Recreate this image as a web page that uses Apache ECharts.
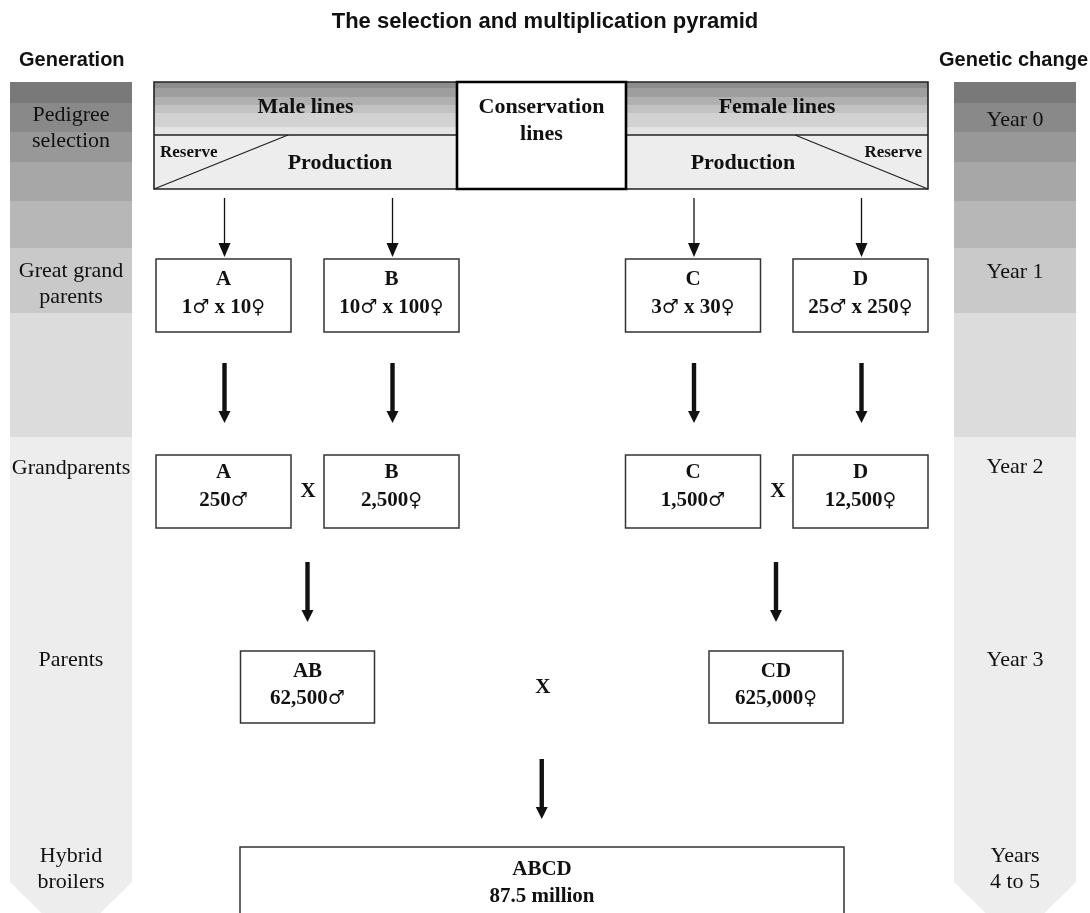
<!DOCTYPE html>
<html><head><meta charset="utf-8">
<script src="https://cdn.jsdelivr.net/npm/echarts@6/dist/echarts.min.js"></script>
<style>html,body{margin:0;padding:0;background:#fff}#c{width:1090px;height:913px}</style>
</head><body><div id="c"></div>
<script>
// ---------------- DATA ----------------
const chartTitle = 'The selection and multiplication pyramid';
const leftHeader = 'Generation';
const rightHeader = 'Genetic change';
const generations = ['Pedigree\nselection', 'Great grand\nparents', 'Grandparents', 'Parents', 'Hybrid\nbroilers'];
const geneticChange = ['Year 0', 'Year 1', 'Year 2', 'Year 3', 'Years\n4 to 5'];
const topHeaders = ['Male lines', 'Conservation\nlines', 'Female lines'];
const subHeaders = ['Production', 'Reserve'];
const ggpLines = ['A', 'B', 'C', 'D'];
const ggpMales = [1, 10, 3, 25];
const ggpFemales = [10, 100, 30, 250];
const gpLines = ['A', 'B', 'C', 'D'];
const gpCounts = [250, 2500, 1500, 12500];
const gpSex = ['♂', '♀', '♂', '♀'];
const parentLines = ['AB', 'CD'];
const parentCounts = [62500, 625000];
const parentSex = ['♂', '♀'];
const hybridLine = 'ABCD';
const hybridMillions = 87.5;
const crossSign = 'X';

// ---------------- LAYOUT (axis units) ----------------
const W = 1090, H = 913;
const colL = [10, 132], colR = [954, 1076];
const bandEdges = [82, 103, 132, 162, 201, 248, 313, 437];
const bandColors = ['#797979', '#898989', '#989898', '#a7a7a7', '#b7b7b7', '#c9c9c9', '#dcdcdc', '#ededed'];
const chevronStart = 882, chevronTip = 942;
const genY = [128.5, 284.5, 468, 660, 869.5];
const yearY = [120, 272, 467, 660, 869.5];
const topBox = {male: [154, 457], cons: [457, 626], female: [626, 928], y: [82, 135, 189]};
const stripeEdges = [82, 88, 97, 105, 113, 127, 135];
const stripeColors = ['#8c8c8c', '#9e9e9e', '#b0b0b0', '#c2c2c2', '#d2d2d2', '#e4e4e4'];
const lineCx = [223.5, 391.5, 693, 860.5];
const boxW = 135, boxH = 73;
const ggpTop = 259, gpTop = 455, parTop = 651, hybTop = 847;
const parentCx = [307.5, 776];
const hybridX = [240, 844];

const SERIF = 'Liberation Serif, Times New Roman, serif';
const SANS = 'Liberation Sans, Arial, sans-serif';
const symRich = {s: {fontFamily: 'DejaVu Serif, DejaVu Sans', fontWeight: 'normal', fontSize: 19, fill: '#111'}};

function fmt(n) { return n.toLocaleString('en-US'); }

// ---------------- SHAPE LISTS ----------------
function columnShapes(col, labels, ys) {
  const out = [];
  const cx = (col[0] + col[1]) / 2;
  for (let i = 0; i < bandColors.length; i++) {
    if (i < bandColors.length - 1) {
      out.push({t: 'rect', x0: col[0], y0: bandEdges[i], x1: col[1], y1: bandEdges[i + 1], fill: bandColors[i]});
    } else {
      out.push({t: 'poly', pts: [[col[0], bandEdges[i]], [col[1], bandEdges[i]], [col[1], chevronStart], [cx, chevronTip], [col[0], chevronStart]], fill: bandColors[i]});
    }
  }
  labels.forEach((lab, i) => out.push({t: 'text', x: cx, y: ys[i], text: lab, family: SERIF, size: 22, weight: 'normal', lh: 26}));
  return out;
}

function headerShapes() {
  const out = [];
  const y = topBox.y;
  [topBox.male, topBox.female].forEach(r => {
    for (let i = 0; i < stripeColors.length; i++) out.push({t: 'rect', x0: r[0], y0: stripeEdges[i], x1: r[1], y1: stripeEdges[i + 1], fill: stripeColors[i]});
    out.push({t: 'rect', x0: r[0], y0: y[1], x1: r[1], y1: y[2], fill: '#ededed'});
    out.push({t: 'rect', x0: r[0], y0: y[0], x1: r[1], y1: y[2], fill: 'none', stroke: '#222', lw: 1.6});
    out.push({t: 'line', x0: r[0], y0: y[1], x1: r[1], y1: y[1], stroke: '#222', lw: 1.4});
  });
  // diagonals
  out.push({t: 'line', x0: topBox.male[0], y0: y[2], x1: 288, y1: y[1], stroke: '#222', lw: 1.3});
  out.push({t: 'line', x0: 795, y0: y[1], x1: topBox.female[1], y1: y[2], stroke: '#222', lw: 1.3});
  // conservation
  out.push({t: 'rect', x0: topBox.cons[0], y0: y[0], x1: topBox.cons[1], y1: y[2], fill: '#fff', stroke: '#000', lw: 2.6});
  const bold = {family: SERIF, size: 22, weight: 'bold'};
  out.push(Object.assign({t: 'text', x: (topBox.male[0] + topBox.male[1]) / 2, y: 107, text: topHeaders[0]}, bold));
  out.push(Object.assign({t: 'text', x: (topBox.cons[0] + topBox.cons[1]) / 2, y: 120.5, text: topHeaders[1], lh: 27}, bold));
  out.push(Object.assign({t: 'text', x: (topBox.female[0] + topBox.female[1]) / 2, y: 107, text: topHeaders[2]}, bold));
  out.push(Object.assign({t: 'text', x: 340, y: 163, text: subHeaders[0]}, bold));
  out.push(Object.assign({t: 'text', x: 743, y: 163, text: subHeaders[0]}, bold));
  out.push({t: 'text', x: 160, y: 153, text: subHeaders[1], family: SERIF, size: 17, weight: 'bold', align: 'left'});
  out.push({t: 'text', x: 922, y: 153, text: subHeaders[1], family: SERIF, size: 17, weight: 'bold', align: 'right'});
  return out;
}

function boxShapes() {
  const out = [];
  const box = (x0, y0, x1, y1) => out.push({t: 'rect', x0, y0, x1, y1, fill: '#fff', stroke: '#333', lw: 1.5});
  const txt = (x, y, text) => out.push({t: 'text', x, y, text, family: SERIF, size: 21, weight: 'bold', rich: symRich});
  ggpLines.forEach((n, i) => {
    box(lineCx[i] - boxW / 2, ggpTop, lineCx[i] + boxW / 2, ggpTop + boxH);
    txt(lineCx[i], ggpTop + 21, n);
    txt(lineCx[i], ggpTop + 49, ggpMales[i] + '{s|♂} x ' + ggpFemales[i] + '{s|♀}');
  });
  gpLines.forEach((n, i) => {
    box(lineCx[i] - boxW / 2, gpTop, lineCx[i] + boxW / 2, gpTop + boxH);
    txt(lineCx[i], gpTop + 18, n);
    txt(lineCx[i], gpTop + 46, fmt(gpCounts[i]) + '{s|' + gpSex[i] + '}');
  });
  parentLines.forEach((n, i) => {
    box(parentCx[i] - 67, parTop, parentCx[i] + 67, parTop + 72);
    txt(parentCx[i], parTop + 21, n);
    txt(parentCx[i], parTop + 48, fmt(parentCounts[i]) + '{s|' + parentSex[i] + '}');
  });
  box(hybridX[0], hybTop, hybridX[1], hybTop + 120);
  txt((hybridX[0] + hybridX[1]) / 2, hybTop + 23, hybridLine);
  txt((hybridX[0] + hybridX[1]) / 2, hybTop + 50, hybridMillions + ' million');
  // cross marks
  const cross = (x, y) => out.push({t: 'text', x, y, text: crossSign, family: SERIF, size: 21, weight: 'bold'});
  cross((lineCx[0] + lineCx[1]) / 2 + 0.5, gpTop + 37);
  cross((lineCx[2] + lineCx[3]) / 2 + 1, gpTop + 37);
  cross((parentCx[0] + parentCx[1]) / 2 + 1, parTop + 37);
  return out;
}

function arrowShapes() {
  const out = [];
  const thin = (x, y0, y1) => {
    out.push({t: 'line', x0: x, y0: y0, x1: x, y1: y1 - 12, stroke: '#111', lw: 1.3});
    out.push({t: 'poly', pts: [[x - 6, y1 - 14], [x + 6, y1 - 14], [x, y1]], fill: '#111'});
  };
  const thick = (x, y0, y1) => {
    out.push({t: 'rect', x0: x - 2.2, y0: y0, x1: x + 2.2, y1: y1 - 10, fill: '#111'});
    out.push({t: 'poly', pts: [[x - 6, y1 - 12], [x + 6, y1 - 12], [x, y1]], fill: '#111'});
  };
  lineCx.forEach(x => thin(x + 1, 198, 257));
  lineCx.forEach(x => thick(x + 1, 363, 423));
  parentCx.forEach(x => thick(x, 562, 622));
  thick((parentCx[0] + parentCx[1]) / 2, 759, 819);
  return out;
}

// ---------------- RENDER ----------------
function makeRender(list) {
  return function (params, api) {
    const s = list[params.dataIndex];
    const c = (x, y) => api.coord([x, y]);
    if (s.t === 'rect') {
      const p0 = c(s.x0, s.y0), p1 = c(s.x1, s.y1);
      return {type: 'rect', shape: {x: p0[0], y: p0[1], width: p1[0] - p0[0], height: p1[1] - p0[1]},
        style: {fill: s.fill === 'none' ? null : s.fill, stroke: s.stroke || null, lineWidth: s.lw || 0}};
    }
    if (s.t === 'poly') {
      return {type: 'polygon', shape: {points: s.pts.map(p => c(p[0], p[1]))}, style: {fill: s.fill, stroke: s.stroke || null}};
    }
    if (s.t === 'line') {
      const p0 = c(s.x0, s.y0), p1 = c(s.x1, s.y1);
      return {type: 'line', shape: {x1: p0[0], y1: p0[1], x2: p1[0], y2: p1[1]}, style: {stroke: s.stroke, lineWidth: s.lw}};
    }
    const p = c(s.x, s.y);
    return {type: 'text', x: p[0], y: p[1], style: {text: s.text, fill: '#111', fontFamily: s.family, fontSize: s.size,
      fontWeight: s.weight, align: s.align || 'center', verticalAlign: 'middle', lineHeight: s.lh || s.size + 4, rich: s.rich}};
  };
}
function customSeries(name, list) {
  return {type: 'custom', name, coordinateSystem: 'cartesian2d', silent: true, clip: false,
    data: list.map((s, i) => [s.x !== undefined ? s.x : (s.x0 || 0), s.y !== undefined ? s.y : (s.y0 || 0)]),
    renderItem: makeRender(list)};
}

const chart = echarts.init(document.getElementById('c'), null, {renderer: 'canvas'});
chart.setOption({
  animation: false,
  backgroundColor: '#fff',
  title: [
    {text: chartTitle, left: 'center', top: 11, padding: 0, textStyle: {fontFamily: SANS, fontSize: 22, fontWeight: 'bold', color: '#111'}},
    {text: leftHeader, left: 19, top: 50, padding: 0, textStyle: {fontFamily: SANS, fontSize: 20, fontWeight: 'bold', color: '#111'}},
    {text: rightHeader, right: 2, top: 50, padding: 0, textStyle: {fontFamily: SANS, fontSize: 20, fontWeight: 'bold', color: '#111'}}
  ],
  grid: {left: 0, right: 0, top: 0, bottom: 0},
  xAxis: {type: 'value', min: 0, max: W, show: false},
  yAxis: {type: 'value', min: 0, max: H, inverse: true, show: false},
  series: [
    customSeries('Generation', columnShapes(colL, generations, genY)),
    customSeries('Genetic change', columnShapes(colR, geneticChange, yearY)),
    customSeries('Header', headerShapes()),
    customSeries('Populations', boxShapes()),
    customSeries('Flows', arrowShapes())
  ]
});
</script></body></html>
